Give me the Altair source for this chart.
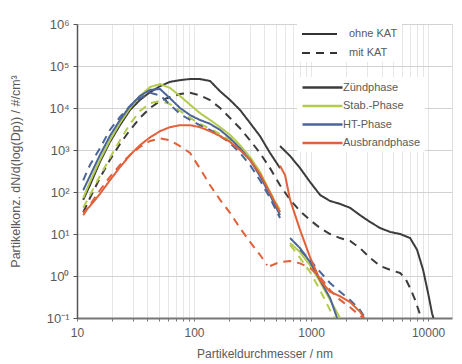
import altair as alt
import pandas as pd

# ---------------- data ----------------
phases = ["Zündphase", "Stab.-Phase", "HT-Phase", "Ausbrandphase"]
phase_colors = ["#3c3c3c", "#b3cc4e", "#4b6598", "#e2603a"]
kat_labels = ["ohne KAT", "mit KAT"]

# SMPS size grid (nm)
D_A = [11.3, 12.9, 15.7, 19.1, 23.3, 28.4, 34.5, 42.1, 51.2, 62.4, 75.9,
       92.4, 112, 137, 167, 203, 247, 301, 366, 446, 543]

zuend_ohne_A = [65, 145, 520, 1550, 3900, 9000, 15500, 24000, 33000, 42000, 46000,
                49000, 49000, 44000, 25000, 15500, 9000, 4400, 2150, 850, 370]
zuend_ohne_B_d = [543, 662, 805, 980, 1194, 1453, 1770, 2154, 2623, 3193, 3888,
                  4733, 5763, 7016, 8050, 9060, 10000, 10800, 11100]
zuend_ohne_B = [1240, 720, 370, 173, 85, 61, 52, 42, 28, 19.3, 13.9,
                11.2, 10, 8.0, 4.2, 1.4, 0.39, 0.13, 0.1]

zuend_mit_d = [11.3, 12.9, 15.7, 19.1, 23.3, 28.4, 34.5, 42.1, 51.2, 62.4, 75.9,
               92.4, 112, 137, 167, 203, 247, 301, 366, 446, 543,
               662, 805, 980, 1194, 1453, 1770, 2154, 2623, 3193, 3888, 4733,
               5763, 6350, 7016, 7740, 8541]
zuend_mit = [33, 72, 215, 580, 1390, 3000, 5800, 10000, 14700, 18300, 21500,
             23000, 20000, 15500, 10000, 5800, 3300, 1700, 850, 370, 145,
             65, 35, 21.5, 13.9, 10, 8.0, 6.8, 4.6, 2.7, 1.73, 1.4,
             1.18, 0.9, 0.52, 0.27, 0.12]

stab_ohne_A = [72, 173, 580, 1700, 4400, 10000, 19300, 31600, 37000, 30000, 19300,
               12000, 7600, 5200, 3500, 2300, 1300, 680, 300, 100, 33]
stab_ohne_B_d = [662, 805, 980, 1194, 1453, 1770]
stab_ohne_B = [6.1, 3.7, 1.8, 0.72, 0.27, 0.1]

stab_mit_A = [42, 85, 240, 650, 1700, 4200, 8500, 13000, 14700, 12400, 8500,
              5800, 4200, 3200, 2400, 1700, 1060, 580, 270, 100, 37]
stab_mit_B_d = [662, 805, 980, 1194, 1453, 1575]
stab_mit_B = [5.5, 2.7, 1.25, 0.46, 0.155, 0.1]

ht_ohne_A = [110, 240, 760, 2150, 5200, 11200, 19300, 27000, 28300, 17000, 10000,
             6800, 5200, 4200, 3000, 1900, 1100, 580, 240, 85, 28]
ht_ohne_B_d = [662, 805, 980, 1194, 1453, 1667]
ht_ohne_B = [8.0, 4.6, 2.15, 0.8, 0.3, 0.1]

ht_mit_A = [190, 440, 1100, 3000, 6100, 11200, 17000, 23000, 20000, 12000, 7200,
            5200, 3900, 3000, 2150, 1470, 850, 440, 190, 72, 24]
ht_mit_B_d = [805, 980, 1194, 1453, 1770, 2154, 2623, 2900]
ht_mit_B = [4.2, 2.4, 1.25, 0.68, 0.42, 0.27, 0.155, 0.1]

aus_ohne_A = [32, 46, 90, 190, 390, 760, 1300, 2000, 2800, 3500, 3900,
              3900, 3500, 2800, 2150, 1550, 1000, 580, 270, 95, 33]
aus_ohne_B_d = [543, 600, 662, 805, 980, 1194, 1453, 1770, 2154, 2623, 2840]
aus_ohne_B = [420, 250, 65, 12.5, 2.8, 0.8, 0.42, 0.33, 0.24, 0.14, 0.1]

aus_mit_A_d = [11.3, 12.9, 15.7, 19.1, 23.3, 28.4, 34.5, 42.1, 51.2, 62.4,
               75.9, 92.4, 112, 137, 167, 203, 247, 301, 366, 421]
aus_mit_A = [28, 49, 110, 228, 440, 760, 1180, 1640, 1900, 1700,
             1240, 850, 370, 145, 65, 32, 13.9, 6.5, 3.2, 1.8]
aus_mit_B_d = [446, 543, 662, 805, 980, 1194, 1453, 1770, 2154, 2470, 2800]
aus_mit_B = [1.73, 2.15, 2.28, 2.0, 1.55, 0.95, 0.46, 0.27, 0.18, 0.13, 0.1]

x_tick_values = [10, 20, 30, 40, 50, 60, 70, 80, 90,
                 100, 200, 300, 400, 500, 600, 700, 800, 900,
                 1000, 2000, 3000, 4000, 5000, 6000, 7000, 8000, 9000, 10000]
x_label_values = [10, 100, 1000, 10000]
y_tick_values = [0.1, 1, 10, 100, 1000, 10000, 100000, 1000000]

# ---------------- table ----------------
segments = [
    ("Zündphase", "ohne KAT", "A", D_A, zuend_ohne_A),
    ("Zündphase", "ohne KAT", "B", zuend_ohne_B_d, zuend_ohne_B),
    ("Zündphase", "mit KAT", "A", zuend_mit_d, zuend_mit),
    ("Stab.-Phase", "ohne KAT", "A", D_A, stab_ohne_A),
    ("Stab.-Phase", "ohne KAT", "B", stab_ohne_B_d, stab_ohne_B),
    ("Stab.-Phase", "mit KAT", "A", D_A, stab_mit_A),
    ("Stab.-Phase", "mit KAT", "B", stab_mit_B_d, stab_mit_B),
    ("HT-Phase", "ohne KAT", "A", D_A, ht_ohne_A),
    ("HT-Phase", "ohne KAT", "B", ht_ohne_B_d, ht_ohne_B),
    ("HT-Phase", "mit KAT", "A", D_A, ht_mit_A),
    ("HT-Phase", "mit KAT", "B", ht_mit_B_d, ht_mit_B),
    ("Ausbrandphase", "ohne KAT", "A", D_A, aus_ohne_A),
    ("Ausbrandphase", "ohne KAT", "B", aus_ohne_B_d, aus_ohne_B),
    ("Ausbrandphase", "mit KAT", "A", aus_mit_A_d, aus_mit_A),
    ("Ausbrandphase", "mit KAT", "B", aus_mit_B_d, aus_mit_B),
]
rows = []
for ph, kat, seg, ds, vs in segments:
    for i, (d, v) in enumerate(zip(ds, vs)):
        rows.append({"phase": ph, "kat": kat, "key": ph + kat + seg,
                     "order": i, "d": d, "v": v})
df = pd.DataFrame(rows)

FONT = "Liberation Sans"
GRAY = "#5a5a5a"

sup = "['⁻¹','⁰','¹','²','³','⁴','⁵','⁶']"

chart = alt.Chart(df).mark_line(strokeWidth=2, clip=True).encode(
    x=alt.X("d:Q",
            scale=alt.Scale(type="log", domain=[10, 16000], nice=False),
            axis=alt.Axis(values=x_tick_values,
                          labelExpr="indexof(" + str(x_label_values) + ", datum.value) >= 0 ? format(datum.value, 'd') : ''",
                          title="Partikeldurchmesser / nm",
                          grid=True, gridColor="#e6e6e6", gridWidth=1,
                          tickSize=3, tickColor="#777", domainColor="#777", domainWidth=2,
                          labelFontSize=12, labelColor=GRAY, labelPadding=6,
                          titleFontSize=12, titleColor=GRAY, titleFontWeight="normal",
                          titlePadding=10, labelOverlap=False, labelFlush=False)),
    y=alt.Y("v:Q",
            scale=alt.Scale(type="log", domain=[0.1, 1000000], nice=False),
            axis=alt.Axis(values=y_tick_values,
                          labelExpr="'10' + " + sup + "[round(log(datum.value)/LN10) + 1]",
                          title="Partikelkonz. dN/d(log(Dp)) / #/cm³",
                          grid=True, gridColor="#d2d2d2", gridWidth=1,
                          tickSize=4, tickColor="#555", domainColor="#555", domainWidth=1.5,
                          labelFontSize=13, labelColor=GRAY, labelPadding=4,
                          titleFontSize=12.5, titleColor=GRAY, titleFontWeight="normal",
                          titlePadding=24, labelOverlap=False)),
    color=alt.Color("phase:N",
                    scale=alt.Scale(domain=phases, range=phase_colors),
                    legend=alt.Legend(title=None, orient="none", legendX=220, legendY=53,
                                      symbolType="M-1,0H7", symbolSize=100,
                                      symbolStrokeWidth=2.5, labelOffset=29,
                                      labelFontSize=11, labelColor=GRAY, rowPadding=6.5,
                                      fillColor="white", padding=4)),
    strokeDash=alt.StrokeDash("kat:N",
                              scale=alt.Scale(domain=kat_labels, range=[[1, 0], [8, 6]]),
                              legend=alt.Legend(title=None, orient="none", legendX=220, legendY=0,
                                                symbolType="M-1,0H6", symbolSize=100,
                                                symbolStrokeWidth=2, symbolStrokeColor="#333",
                                                labelOffset=36, labelFontSize=11,
                                                labelColor=GRAY, rowPadding=8,
                                                fillColor="white", padding=4)),
    detail="key:N",
    order="order:Q",
).properties(
    width=375, height=294,
    autosize="none",
    padding={"left": 77, "top": 24, "right": 10, "bottom": 46},
    background="white",
).configure_view(strokeWidth=0).configure(font=FONT)

chart.save("out.html", embed_options={"renderer": "svg", "actions": False})
